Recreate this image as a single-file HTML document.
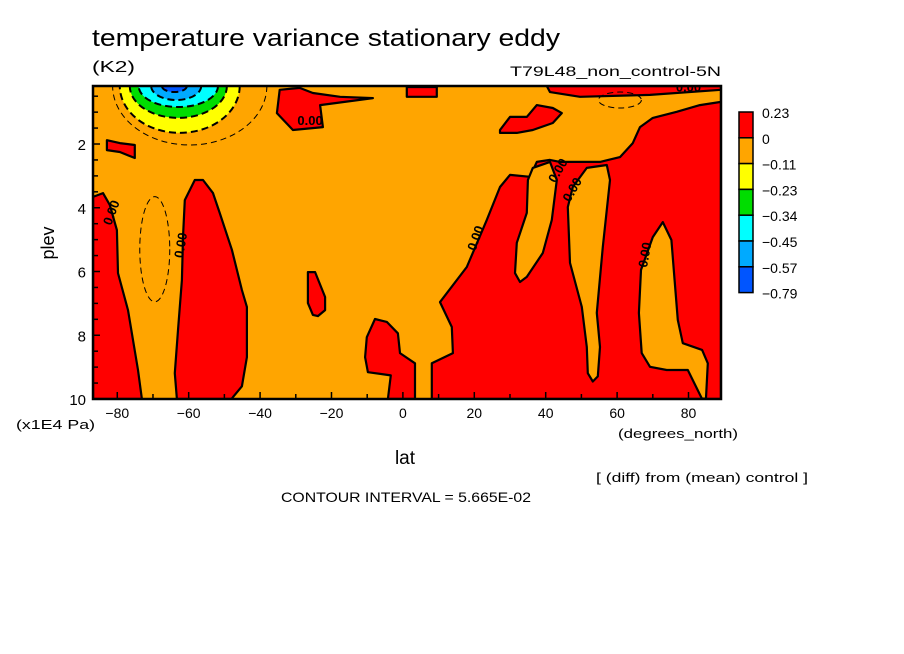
<!DOCTYPE html>
<html><head><meta charset="utf-8"><style>
html,body{margin:0;padding:0;background:#fff;width:904px;height:654px;overflow:hidden}
svg{display:block}
text{font-family:"Liberation Sans",sans-serif;fill:#000}
</style></head><body>
<svg id="chart" width="904" height="654" viewBox="0 0 904 654" xmlns="http://www.w3.org/2000/svg">
<text x="92" y="46" font-size="24" textLength="468" lengthAdjust="spacingAndGlyphs">temperature variance stationary eddy</text>
<text x="92" y="72" font-size="16" textLength="43" lengthAdjust="spacingAndGlyphs">(K2)</text>
<text x="510" y="76" font-size="14" textLength="211" lengthAdjust="spacingAndGlyphs">T79L48_non_control-5N</text>
<text x="54" y="243" font-size="18" transform="rotate(-90 54 243)" text-anchor="middle">plev</text>
<text x="16" y="429" font-size="13" textLength="79" lengthAdjust="spacingAndGlyphs">(x1E4 Pa)</text>
<text x="405" y="464" font-size="19" text-anchor="middle">lat</text>
<text x="618" y="438" font-size="13" textLength="120" lengthAdjust="spacingAndGlyphs">(degrees_north)</text>
<text x="596" y="482" font-size="13" textLength="212" lengthAdjust="spacingAndGlyphs">[ (diff) from (mean) control ]</text>
<text x="281" y="502" font-size="14" textLength="250" lengthAdjust="spacingAndGlyphs">CONTOUR INTERVAL = 5.665E-02</text>
<defs><clipPath id="plotclip"><rect x="93" y="86" width="628" height="313"/></clipPath></defs>
<rect x="93" y="86" width="628" height="313" fill="#ffa500"/>
<g id="field" clip-path="url(#plotclip)"></g>
<g id="axes"></g>
<g id="legend"></g>
</svg>
<script>
const latMin=-86.8, latMax=89.1, pMin=0.18, pMax=10;
const PX0=93, PX1=721, PY0=86, PY1=399;
const xTicks=[-80,-60,-40,-20,0,20,40,60,80];
const yTicks=[2,4,6,8,10];
const levelLabels=["0.23","0","\u22120.11","\u22120.23","\u22120.34","\u22120.45","\u22120.57","\u22120.79"];
const levelColors=["#ff0000","#ffa500","#ffff00","#00dd00","#00ffff","#00aaff","#0055ff"];
const redBig=[[8.1,10],[8.1,8.88],[14.0,8.56],[13.7,7.74],[10.4,6.96],[17.9,5.86],[23.5,4.38],[27.2,3.35],[30.0,2.97],[35.6,3.03],[37.5,2.56],[41.2,2.50],[44.0,2.56],[55.2,2.56],[60.8,2.41],[64.4,1.97],[66.4,1.47],[70.0,1.18],[76.7,0.99],[83.2,0.78],[89.1,0.68],[89.1,10]];
const orangeTongue1=[[41.2,2.56],[36.4,2.75],[35.0,3.13],[34.7,4.16],[31.9,5.10],[31.4,6.05],[32.8,6.33],[34.7,6.17],[39.2,5.42],[41.7,4.38],[43.1,3.13]];
const orangeTongue2=[[57.1,2.66],[51.5,2.75],[47.6,3.35],[46.2,3.98],[46.8,5.73],[50.1,7.11],[51.5,8.37],[51.8,9.19],[53.2,9.45],[54.6,9.29],[55.2,8.37],[54.3,7.30],[56.0,5.23],[58.0,3.13]];
const orangeTongue3=[[72.8,4.45],[75.2,5.01],[76.1,6.27],[77.0,7.52],[78.4,8.25],[83.8,8.46],[85.4,8.88],[84.9,9.97],[83.8,10],[79.8,9.09],[73.9,9.09],[69.2,8.99],[66.9,8.56],[66.1,7.30],[66.7,5.95],[70.0,4.92]];
const redEquator=[[-7.8,7.49],[-4.5,7.58],[-1.4,7.94],[-0.8,8.56],[3.4,8.88],[3.4,10],[-4.2,10],[-3.4,9.26],[-9.8,9.16],[-10.6,8.69],[-10.1,8.06]];
const red60S=[[-63.3,10],[-63.9,9.19],[-63.0,7.84],[-61.9,6.27],[-61.6,4.92],[-61.1,3.76],[-58.3,3.13],[-56.0,3.13],[-53.2,3.54],[-51.3,4.16],[-47.9,5.32],[-45.1,6.58],[-43.7,7.11],[-43.7,8.69],[-45.1,9.60],[-47.6,9.94],[-48,10]];
const redLeft=[[-86.8,3.66],[-84.0,3.54],[-82.1,3.91],[-80.1,4.70],[-79.8,6.05],[-77.0,7.21],[-74.2,9.09],[-73.1,10],[-86.8,10]];
const red30S=[[-26.6,6.02],[-24.6,6.02],[-21.8,6.80],[-21.8,7.21],[-23.8,7.40],[-25.2,7.36],[-26.6,6.99]];
const redTop30S=[[-34.5,0.30],[-28.9,0.24],[-25.2,0.40],[-17.6,0.52],[-8.4,0.56],[-23.2,0.78],[-22.4,1.47],[-30.8,1.56],[-35.3,1.03]];
const redTop0=[[1.1,0.21],[9.5,0.21],[9.5,0.52],[1.1,0.52]];
const redTopStrip=[[40.3,0.18],[89.1,0.18],[89.1,0.30],[69.2,0.46],[49.6,0.52],[41.2,0.37]];
const red30N=[[27.2,1.56],[30.0,1.15],[34.7,1.15],[37.5,0.78],[42.0,0.87],[44.5,1.03],[42.0,1.34],[36.4,1.56],[31.9,1.65],[27.2,1.65]];
const redSmallLeft=[[-82.9,1.88],[-79.3,1.97],[-75.1,2.03],[-75.1,2.44],[-79.3,2.25],[-82.9,2.19]];
const redPolys=[redBig,redEquator,red60S,redLeft,red30S,redTop30S,redTop0,redTopStrip,red30N,redSmallLeft];
const orangePolys=[orangeTongue1,orangeTongue2,orangeTongue3];
const coldLat=[-62.5,-62.9,-62.9,-63.5,-64.0];
const coldHalf=[16.8,13.6,11.1,7.0,3.5];
const coldDepth=[1.47,1.0,0.66,0.44,0.19];
const dashLat=[-59.7,-69.5,60.8];
const dashHalf=[21.6,4.2,6.0];
const dashP=[0.18,5.3,0.62];
const dashPH=[1.85,1.65,0.25];
const zeroLabels=[[-26,1.4,0],[80,0.35,0],[-80.5,4.2,-70],[-61,5.2,-80],[21.5,5.0,-70],[44.5,2.9,-60],[48.5,3.5,-60],[69,5.5,-80]];

const X=l=>PX0+(l-latMin)/(latMax-latMin)*(PX1-PX0);
const Y=p=>PY0+(p-pMin)/(pMax-pMin)*(PY1-PY0);
const NS="http://www.w3.org/2000/svg";
function mk(t,parent,attrs){const e=document.createElementNS(NS,t);for(const k in attrs)e.setAttribute(k,attrs[k]);parent.appendChild(e);return e;}
const field=document.getElementById('field');
const pts=poly=>poly.map(p=>X(p[0]).toFixed(1)+','+Y(p[1]).toFixed(1)).join(' ');
redPolys.forEach(poly=>{
  const e=mk('polygon',field,{points:pts(poly),fill:levelColors[0],stroke:'#000','stroke-width':2.2,'stroke-linejoin':'round'});
  
  
});
orangePolys.forEach(poly=>{
  const e=mk('polygon',field,{points:pts(poly),fill:levelColors[1],stroke:'#000','stroke-width':2.2,'stroke-linejoin':'round'});
  
  
});
dashLat.forEach((l,i)=>{
  const cx=X(l),cy=Y(dashP[i]),rx=X(l+dashHalf[i])-cx,ry=Y(dashP[i]+dashPH[i])-cy;
  const e=mk('ellipse',field,{cx:cx,cy:cy,rx:rx,ry:ry,fill:'none',stroke:'#000','stroke-width':1,'stroke-dasharray':'6 4'});
  
  
});
coldLat.forEach((l,i)=>{
  const cx=X(l),cy=Y(pMin),rx=X(l+coldHalf[i])-cx,ry=Y(pMin+coldDepth[i])-cy;
  const e=mk('ellipse',field,{cx:cx,cy:cy,rx:rx,ry:ry,fill:levelColors[i+2],stroke:'#000','stroke-width':2,'stroke-dasharray':'7 4'});
  
  
});
zeroLabels.forEach(z=>{
  const x=X(z[0]),y=Y(z[1]);
  const t=mk('text',field,{x:x,y:y,'font-size':13,'text-anchor':'middle',transform:`rotate(${z[2]} ${x} ${y})`,'font-weight':'bold'});
  t.textContent='0.00';
  
  
});
const ax=document.getElementById('axes');
const fr=mk('rect',ax,{x:PX0,y:PY0,width:PX1-PX0,height:PY1-PY0,fill:'none',stroke:'#000','stroke-width':2.5});


for(let l=-80;l<=80;l+=10){
  const major=l%20===0;
  const t=mk('line',ax,{x1:X(l),x2:X(l),y1:PY1,y2:PY1-(major?7:5),stroke:'#000','stroke-width':1.5});
  
  
}
xTicks.forEach(l=>{
  const t=mk('text',ax,{x:X(l),y:418,'font-size':14,'text-anchor':'middle'});
  t.textContent=l<0?'\u2212'+(-l):String(l);
  
  
});
for(let p=0.5;p<=10;p+=0.5){
  if(p<pMin)continue;
  const major=p%2===0;
  const t=mk('line',ax,{x1:PX0,x2:PX0+(major?7:5),y1:Y(p),y2:Y(p),stroke:'#000','stroke-width':1.5});
  
  
}
yTicks.forEach(p=>{
  const t=mk('text',ax,{x:86,y:Y(p)+6,'font-size':15,'text-anchor':'end'});
  t.textContent=String(p);
  
  
});
const lg=document.getElementById('legend');
const bx=739,bw=14,by=112,bh=25.8;
levelColors.forEach((c,i)=>{
  const r=mk('rect',lg,{x:bx,y:by+i*bh,width:bw,height:bh,fill:c,stroke:'#000','stroke-width':1.5});
  
  
});
levelLabels.forEach((s,i)=>{
  const t=mk('text',lg,{x:762,y:by+i*bh+6,'font-size':14});
  t.textContent=s;
  
  
});
</script>
</body></html>
